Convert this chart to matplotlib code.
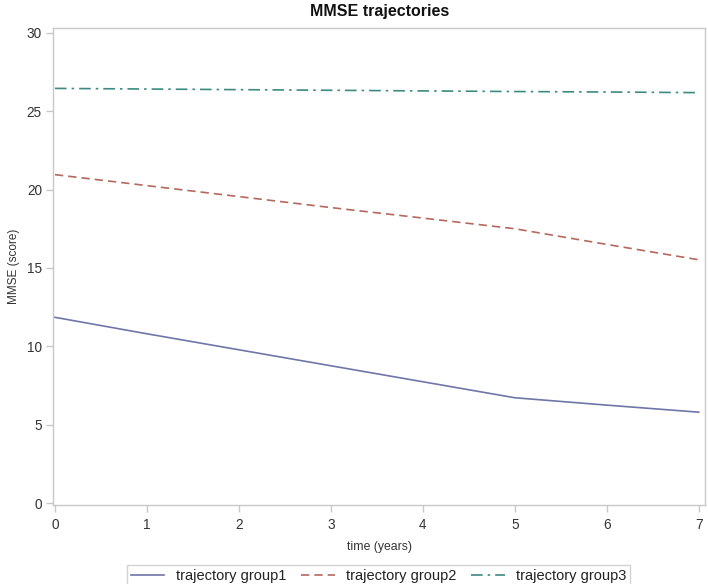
import matplotlib
matplotlib.use("Agg")
import matplotlib.pyplot as plt

plt.rcParams['font.family'] = ['Liberation Sans', 'DejaVu Sans']

years = [0, 1, 2, 3, 4, 5, 6, 7]
group1 = [11.85, 10.8, 9.78, 8.76, 7.74, 6.72, 6.25, 5.8]
group2 = [20.95, 20.25, 19.55, 18.85, 18.18, 17.5, 16.5, 15.52]
group3 = [26.45, 26.41, 26.37, 26.33, 26.29, 26.25, 26.22, 26.18]
labels = ["trajectory group1", "trajectory group2", "trajectory group3"]
xticks = [0, 1, 2, 3, 4, 5, 6, 7]
yticks = [0, 5, 10, 15, 20, 25, 30]

fig = plt.figure(figsize=(7.08, 5.84), dpi=100)
ax = fig.add_axes([0.075, 0.135, 0.921, 0.817])

ax.plot(years, group1, color='#6f76a8', lw=1.2, ls='-', label=labels[0])
ax.plot(years, group2, color='#b5685e', lw=1.2, ls=(0, (5, 3)), label=labels[1])
ax.plot(years, group3, color='#3c8a82', lw=1.2, ls=(0, (7, 3, 1.5, 3)), label=labels[2])

ax.set_xlim(-0.02, 7.07)
ax.set_ylim(-0.13, 30.3)
ax.set_xticks(xticks)
ax.set_yticks(yticks)
for s in ax.spines.values():
    s.set_color('#c8c8c8')
    s.set_linewidth(1.0)
ax.tick_params(colors='#c8c8c8', labelcolor='#333333', labelsize=9.8, length=5, width=1)
ax.tick_params(axis='x', pad=4)
ax.tick_params(axis='y', pad=3)
ax.set_xlabel('time (years)', fontsize=8.8, color='#333333', labelpad=7)
ax.set_ylabel('MMSE (score)', fontsize=8.5, color='#333333', labelpad=5)
ax.set_title('MMSE trajectories', fontsize=11.5, fontweight='bold', color='#111111', pad=9)

leg = fig.legend(loc='lower center', bbox_to_anchor=(0.535, -0.004), ncol=3, fontsize=10.5,
                 frameon=True, fancybox=False, handlelength=2.3, columnspacing=1.0,
                 borderpad=0.25, handletextpad=0.8, borderaxespad=0)
leg.get_frame().set_edgecolor('#c8c8c8')
leg.get_frame().set_linewidth(1.0)
for t in leg.get_texts():
    t.set_color('#222222')

fig.savefig('out.png', dpi=100)
